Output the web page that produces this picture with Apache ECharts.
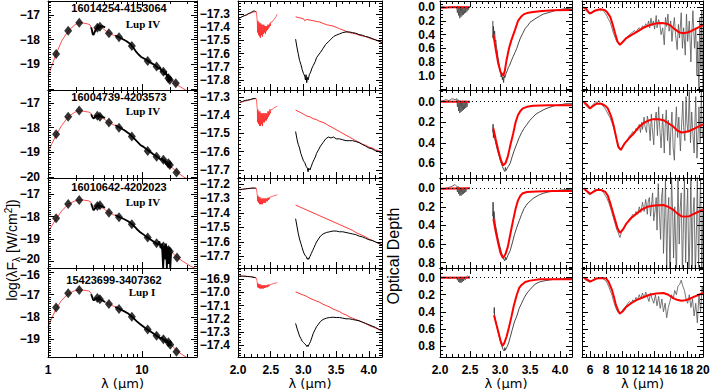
<!DOCTYPE html>
<html><head><meta charset="utf-8">
<script src="https://cdn.jsdelivr.net/npm/echarts@6/dist/echarts.min.js"></script>
<style>html,body{margin:0;padding:0;background:#fff}#c{width:710px;height:390px}</style>
</head><body><div id="c"></div>
<script>
// ---------------- DATA ----------------
const objectNames = ['16014254-4153064','16004739-4203573','16010642-4202023','15423699-3407362'];
const cloudNames = ['Lup IV','Lup IV','Lup IV','Lup I'];
const sedXLabels = [1,10];
const nirXLabels = [2.0,2.5,3.0,3.5,4.0];
const mirXLabels = [6,8,10,12,14,16,18,20];
const sedYLabels = [[-19,-18,-17],[-20,-19,-18,-17],[-20,-19,-18,-17],[-19,-18,-17,-16]];
const fluxYLabels = [[-17.8,-17.7,-17.6,-17.5,-17.4,-17.3],[-17.7,-17.6,-17.5,-17.4,-17.3],[-17.7,-17.6,-17.5,-17.4,-17.3,-17.2],[-17.4,-17.3,-17.2,-17.1,-17.0,-16.9]];
const tauYLabels = [[0,0.2,0.4,0.6,0.8,1.0],[0,0.2,0.4,0.6],[0,0.2,0.4,0.6,0.8],[0,0.2,0.4,0.6,0.8]];
const sedYRange = [[-20.04,-16.43],[-20.05,-16.46],[-20.28,-16.29],[-19.8,-15.8]];
const fluxYRange = [[-17.876,-17.2],[-17.744,-17.263],[-17.78,-17.159],[-17.49,-16.814]];
const tauYRange = [[-0.092,1.21],[-0.114,0.743],[-0.11,0.857],[-0.113,0.93]];

// SED photometry (lambda um, log lambda F)
const sedPhot = [
 [[1.22,-18.58],[1.64,-17.64],[2.15,-17.31],[3.35,-17.52],[3.57,-17.47],[4.45,-17.74],[5.7,-17.9],[7.8,-18.26],[11.5,-18.86],[14.3,-19.09],[16.9,-19.3],[19.1,-19.56],[19.8,-19.63],[22.9,-19.77]],
 [[1.22,-18.27],[1.64,-17.55],[2.15,-17.3],[3.35,-17.51],[3.57,-17.55],[4.45,-17.79],[5.7,-18.0],[7.8,-18.36],[11.5,-18.95],[14.3,-19.18],[16.9,-19.31],[19.1,-19.45],[19.8,-19.52],[23.3,-19.83]],
 [[1.22,-18.07],[1.64,-17.44],[2.15,-17.27],[3.35,-17.53],[3.57,-17.5],[4.45,-17.83],[5.7,-18.03],[7.8,-18.34],[11.5,-18.93],[14.3,-19.18],[16.9,-19.33],[19.1,-19.48],[19.8,-19.55],[23.6,-19.82]],
 [[1.22,-17.57],[1.64,-16.94],[2.15,-16.79],[3.35,-17.15],[3.57,-17.21],[4.45,-17.42],[5.7,-17.64],[7.8,-17.99],[11.5,-18.56],[14.3,-18.85],[16.9,-19.0],[19.1,-19.14],[20,-19.25],[23.3,-19.56]]
];
// SED model (red)
const sedModel = [
 [[1.0,-19.5],[1.1,-19.05],[1.22,-18.58],[1.4,-18.05],[1.64,-17.64],[1.9,-17.42],[2.15,-17.3],[2.4,-17.33],[2.65,-17.36],[2.8,-17.4],[2.9,-17.55],[2.97,-17.78],[3.02,-17.8],[3.1,-17.68],[3.2,-17.55],[3.4,-17.48],[3.6,-17.47],[4.0,-17.6],[4.45,-17.73],[5.0,-17.82],[5.7,-17.9],[6.5,-18.02],[7.2,-18.12],[7.8,-18.25],[8.5,-18.45],[9.2,-18.62],[10.0,-18.72],[11.0,-18.8],[12.0,-18.9],[13.5,-19.03],[15.0,-19.17],[17.0,-19.33],[19.0,-19.52],[21.0,-19.66],[24.0,-19.85],[28.0,-20.0],[32.0,-20.12]],
 [[1.0,-19.04],[1.1,-18.65],[1.22,-18.3],[1.4,-17.9],[1.64,-17.56],[1.9,-17.38],[2.15,-17.3],[2.4,-17.33],[2.7,-17.36],[2.85,-17.4],[2.95,-17.52],[3.02,-17.6],[3.1,-17.55],[3.25,-17.5],[3.5,-17.52],[4.0,-17.66],[4.45,-17.78],[5.0,-17.88],[5.7,-17.98],[6.5,-18.1],[7.8,-18.35],[8.5,-18.5],[9.5,-18.7],[10.5,-18.8],[11.5,-18.93],[13,-19.08],[15,-19.22],[17,-19.35],[19,-19.5],[21,-19.63],[24,-19.83],[28,-20.02],[32,-20.12]],
 [[1.0,-18.67],[1.1,-18.4],[1.22,-18.1],[1.4,-17.75],[1.64,-17.45],[1.9,-17.32],[2.15,-17.26],[2.4,-17.27],[2.7,-17.3],[2.85,-17.35],[2.95,-17.55],[3.02,-17.62],[3.1,-17.55],[3.25,-17.5],[3.5,-17.52],[4.0,-17.68],[4.45,-17.82],[5.0,-17.92],[5.7,-18.02],[6.5,-18.12],[7.8,-18.34],[8.5,-18.5],[9.5,-18.7],[10.5,-18.8],[11.5,-18.93],[13,-19.07],[15,-19.22],[17,-19.35],[19,-19.47],[21,-19.6],[24,-19.83],[28,-20.02],[33,-20.2],[38.5,-20.33]],
 [[1.0,-18.47],[1.1,-18.05],[1.22,-17.62],[1.4,-17.25],[1.64,-16.96],[1.9,-16.83],[2.15,-16.78],[2.4,-16.8],[2.7,-16.83],[2.85,-16.9],[2.95,-17.1],[3.02,-17.25],[3.1,-17.22],[3.25,-17.15],[3.5,-17.18],[4.0,-17.32],[4.45,-17.42],[5.0,-17.52],[5.7,-17.63],[6.5,-17.75],[7.8,-17.98],[8.5,-18.13],[9.5,-18.32],[10.5,-18.44],[11.5,-18.56],[13,-18.72],[15,-18.88],[17,-19.0],[19,-19.12],[21,-19.3],[24,-19.55],[28,-19.75],[31,-19.85]]
];
// SED observed spectra (black): 3 um part and IRS part
const sedSpecL = [
 [[2.88,-17.5],[2.95,-17.65],[3.0,-17.79],[3.05,-17.8],[3.1,-17.74],[3.2,-17.62],[3.3,-17.55],[3.45,-17.48],[3.65,-17.45],[3.85,-17.46],[4.05,-17.5]],
 [[2.88,-17.45],[2.95,-17.55],[3.02,-17.6],[3.07,-17.62],[3.15,-17.57],[3.3,-17.5],[3.5,-17.52],[3.75,-17.55],[4.05,-17.6]],
 [[2.88,-17.42],[2.95,-17.55],[3.02,-17.68],[3.07,-17.72],[3.15,-17.65],[3.3,-17.55],[3.5,-17.52],[3.75,-17.55],[4.05,-17.6]],
 [[2.88,-16.98],[2.95,-17.1],[3.02,-17.22],[3.07,-17.25],[3.15,-17.2],[3.3,-17.15],[3.5,-17.17],[3.75,-17.25],[4.05,-17.33]]
];
const sedSpecM = [
 [[5.2,-17.83],[5.7,-17.9],[6.2,-17.97],[6.8,-18.05],[7.4,-18.15],[8.0,-18.3],[8.6,-18.47],[9.2,-18.6],[9.8,-18.7],[10.5,-18.76],[11.2,-18.82],[12,-18.9],[13,-18.98],[14,-19.06],[15,-19.18],[15.6,-19.12],[16.2,-19.3],[16.8,-19.22],[17.4,-19.42],[18,-19.3],[18.5,-19.55],[19,-19.4],[19.5,-19.7],[20,-19.5],[20.5,-19.65]],
 [[5.2,-17.9],[5.7,-17.98],[6.5,-18.1],[7.2,-18.22],[8.0,-18.38],[8.8,-18.55],[9.6,-18.7],[10.4,-18.78],[11.2,-18.88],[12,-18.96],[13,-19.06],[14,-19.15],[15,-19.22],[15.8,-19.3],[16.4,-19.25],[17,-19.4],[17.5,-19.3],[18,-19.5],[18.5,-19.38],[19,-19.6],[19.5,-19.45],[20,-19.62],[20.5,-19.55]],
 [[5.2,-17.93],[5.7,-18.02],[6.5,-18.12],[7.2,-18.22],[8.0,-18.37],[8.8,-18.55],[9.6,-18.7],[10.4,-18.8],[11.2,-18.9],[12,-18.98],[13,-19.08],[14,-19.18],[14.8,-19.25],[15.3,-19.1],[15.8,-19.4],[16.3,-19.2],[16.8,-20.3],[17.2,-19.3],[17.6,-19.9],[18,-19.2],[18.4,-20.3],[18.8,-19.35],[19.2,-20.1],[19.6,-19.4],[20,-20.3],[20.4,-19.6]],
 [[5.2,-17.55],[5.7,-17.63],[6.5,-17.75],[7.2,-17.86],[8.0,-18.02],[8.8,-18.2],[9.6,-18.33],[10.4,-18.44],[11.2,-18.54],[12,-18.62],[13,-18.72],[14,-18.82],[15,-18.9],[15.8,-18.98],[16.4,-18.92],[17,-19.08],[17.6,-19.0],[18.2,-19.15],[18.8,-19.05],[19.3,-19.3],[19.8,-19.15],[20.3,-19.3]]
];
// 2-4 um flux: model (red) and observed (black), K-band part (A) and L-band part (B)
const fluxModelA = [
 [[2.00,-17.335],[2.04,-17.325],[2.08,-17.315],[2.12,-17.31],[2.16,-17.30],[2.20,-17.29],[2.24,-17.285],[2.28,-17.28],[2.29,-17.33],[2.295,-17.36],[2.30,-17.44],[2.305,-17.35],[2.315,-17.46],[2.32,-17.36],[2.33,-17.47],[2.335,-17.37],[2.345,-17.48],[2.35,-17.37],[2.36,-17.46],[2.365,-17.38],[2.375,-17.47],[2.38,-17.38],[2.39,-17.45],[2.395,-17.38],[2.405,-17.44],[2.41,-17.39],[2.42,-17.45],[2.425,-17.39],[2.435,-17.43],[2.44,-17.39],[2.45,-17.42],[2.455,-17.38],[2.465,-17.41],[2.47,-17.38],[2.48,-17.40],[2.485,-17.37],[2.495,-17.39],[2.50,-17.36],[2.52,-17.36],[2.55,-17.34],[2.58,-17.32],[2.60,-17.30]],
 [[2.00,-17.335],[2.05,-17.33],[2.10,-17.325],[2.15,-17.32],[2.20,-17.315],[2.25,-17.31],[2.28,-17.31],[2.29,-17.35],[2.295,-17.37],[2.30,-17.44],[2.305,-17.37],[2.315,-17.45],[2.32,-17.38],[2.33,-17.46],[2.335,-17.38],[2.345,-17.46],[2.35,-17.39],[2.36,-17.45],[2.365,-17.39],[2.375,-17.46],[2.38,-17.39],[2.39,-17.44],[2.395,-17.39],[2.405,-17.44],[2.41,-17.39],[2.42,-17.43],[2.425,-17.39],[2.435,-17.43],[2.44,-17.39],[2.45,-17.42],[2.455,-17.38],[2.465,-17.41],[2.47,-17.38],[2.48,-17.40],[2.485,-17.37],[2.495,-17.39],[2.50,-17.37],[2.52,-17.37],[2.55,-17.36],[2.58,-17.355],[2.60,-17.35]],
 [[2.00,-17.24],[2.05,-17.237],[2.10,-17.235],[2.15,-17.232],[2.20,-17.23],[2.25,-17.228],[2.28,-17.23],[2.29,-17.26],[2.295,-17.28],[2.30,-17.32],[2.305,-17.28],[2.315,-17.33],[2.32,-17.29],[2.33,-17.34],[2.335,-17.29],[2.345,-17.34],[2.35,-17.30],[2.36,-17.34],[2.365,-17.30],[2.375,-17.34],[2.38,-17.30],[2.39,-17.33],[2.395,-17.30],[2.405,-17.33],[2.41,-17.30],[2.42,-17.33],[2.425,-17.30],[2.435,-17.32],[2.44,-17.30],[2.45,-17.32],[2.455,-17.295],[2.465,-17.31],[2.47,-17.295],[2.48,-17.305],[2.485,-17.29],[2.50,-17.29],[2.53,-17.285],[2.56,-17.28],[2.60,-17.275]],
 [[2.00,-16.875],[2.05,-16.875],[2.10,-16.876],[2.15,-16.878],[2.20,-16.88],[2.25,-16.885],[2.28,-16.89],[2.29,-16.91],[2.295,-16.93],[2.30,-16.96],[2.305,-16.93],[2.315,-16.965],[2.32,-16.935],[2.33,-16.97],[2.335,-16.94],[2.345,-16.97],[2.35,-16.94],[2.36,-16.97],[2.365,-16.945],[2.375,-16.97],[2.38,-16.945],[2.39,-16.97],[2.395,-16.945],[2.405,-16.965],[2.41,-16.945],[2.42,-16.965],[2.425,-16.945],[2.435,-16.96],[2.44,-16.945],[2.45,-16.96],[2.455,-16.94],[2.465,-16.955],[2.47,-16.94],[2.48,-16.95],[2.485,-16.94],[2.50,-16.94],[2.53,-16.935],[2.56,-16.93],[2.60,-16.925]]
];
const fluxObsA = [
 [[2.02,-17.33],[2.06,-17.32],[2.10,-17.31],[2.13,-17.305],[2.16,-17.295],[2.19,-17.29],[2.22,-17.28],[2.25,-17.275],[2.27,-17.28]],
 [[2.03,-17.33],[2.07,-17.325],[2.11,-17.32],[2.15,-17.318],[2.19,-17.315],[2.23,-17.31],[2.27,-17.31]],
 [[2.03,-17.24],[2.07,-17.237],[2.11,-17.234],[2.15,-17.232],[2.19,-17.23],[2.23,-17.228],[2.27,-17.23]],
 [[2.03,-16.875],[2.07,-16.876],[2.11,-16.877],[2.15,-16.879],[2.19,-16.88],[2.23,-16.884],[2.27,-16.888]]
];
const fluxModelB = [
 [[2.88,-17.32],[2.92,-17.325],[2.96,-17.33],[3.0,-17.335],[3.02,-17.35],[3.05,-17.34],[3.1,-17.345],[3.15,-17.35],[3.2,-17.355],[3.25,-17.36],[3.3,-17.37],[3.35,-17.38],[3.4,-17.385],[3.45,-17.39],[3.5,-17.40],[3.55,-17.41],[3.6,-17.42],[3.65,-17.43],[3.7,-17.44],[3.75,-17.445],[3.8,-17.45],[3.85,-17.46],[3.9,-17.465],[3.95,-17.47],[4.0,-17.48],[4.05,-17.49],[4.1,-17.495],[4.15,-17.505],[4.2,-17.515]],
 [[2.88,-17.373],[2.95,-17.385],[3.0,-17.395],[3.05,-17.405],[3.1,-17.41],[3.15,-17.42],[3.2,-17.425],[3.25,-17.435],[3.3,-17.44],[3.35,-17.45],[3.4,-17.46],[3.45,-17.47],[3.5,-17.48],[3.55,-17.49],[3.6,-17.50],[3.65,-17.51],[3.7,-17.52],[3.75,-17.53],[3.8,-17.54],[3.85,-17.55],[3.9,-17.56],[3.95,-17.565],[4.0,-17.575],[4.05,-17.58],[4.1,-17.59],[4.15,-17.595],[4.2,-17.60]],
 [[2.88,-17.345],[2.95,-17.36],[3.0,-17.37],[3.05,-17.38],[3.1,-17.39],[3.15,-17.40],[3.2,-17.41],[3.25,-17.42],[3.3,-17.43],[3.35,-17.44],[3.4,-17.45],[3.45,-17.46],[3.5,-17.47],[3.55,-17.48],[3.6,-17.49],[3.65,-17.50],[3.7,-17.51],[3.75,-17.52],[3.8,-17.535],[3.85,-17.545],[3.9,-17.555],[3.95,-17.565],[4.0,-17.58],[4.05,-17.59],[4.1,-17.6],[4.15,-17.61],[4.2,-17.62]],
 [[2.88,-16.995],[2.95,-17.01],[3.0,-17.02],[3.05,-17.03],[3.1,-17.045],[3.15,-17.055],[3.2,-17.065],[3.25,-17.075],[3.3,-17.09],[3.35,-17.1],[3.4,-17.11],[3.45,-17.125],[3.5,-17.135],[3.55,-17.145],[3.6,-17.16],[3.65,-17.17],[3.7,-17.185],[3.75,-17.195],[3.8,-17.205],[3.85,-17.215],[3.9,-17.225],[3.95,-17.235],[4.0,-17.25],[4.05,-17.26],[4.1,-17.27],[4.15,-17.28],[4.2,-17.29]]
];
const fluxObsB = [
 [[2.88,-17.49],[2.90,-17.55],[2.92,-17.6],[2.94,-17.65],[2.96,-17.68],[2.98,-17.72],[3.00,-17.75],[3.02,-17.77],[3.03,-17.8],[3.04,-17.76],[3.05,-17.82],[3.06,-17.78],[3.07,-17.80],[3.09,-17.76],[3.11,-17.74],[3.13,-17.71],[3.15,-17.69],[3.18,-17.66],[3.2,-17.63],[3.23,-17.61],[3.26,-17.59],[3.3,-17.56],[3.34,-17.53],[3.38,-17.51],[3.42,-17.49],[3.46,-17.47],[3.5,-17.46],[3.55,-17.45],[3.6,-17.44],[3.65,-17.435],[3.7,-17.435],[3.75,-17.44],[3.8,-17.445],[3.85,-17.455],[3.9,-17.46],[3.95,-17.47],[4.0,-17.475],[4.05,-17.485],[4.1,-17.495],[4.15,-17.505],[4.2,-17.515]],
 [[2.88,-17.49],[2.90,-17.53],[2.92,-17.56],[2.94,-17.58],[2.96,-17.61],[2.98,-17.63],[3.00,-17.65],[3.02,-17.66],[3.04,-17.68],[3.06,-17.69],[3.07,-17.71],[3.08,-17.69],[3.10,-17.70],[3.12,-17.68],[3.14,-17.66],[3.16,-17.645],[3.18,-17.63],[3.2,-17.61],[3.23,-17.59],[3.26,-17.57],[3.3,-17.55],[3.34,-17.53],[3.38,-17.52],[3.42,-17.525],[3.46,-17.52],[3.5,-17.53],[3.55,-17.53],[3.6,-17.535],[3.65,-17.54],[3.7,-17.54],[3.75,-17.54],[3.8,-17.545],[3.85,-17.55],[3.9,-17.56],[3.95,-17.57],[4.0,-17.58],[4.05,-17.585],[4.1,-17.595],[4.15,-17.6],[4.2,-17.61]],
 [[2.88,-17.44],[2.90,-17.49],[2.92,-17.54],[2.94,-17.58],[2.96,-17.61],[2.98,-17.64],[3.00,-17.67],[3.02,-17.69],[3.04,-17.70],[3.06,-17.72],[3.07,-17.71],[3.08,-17.72],[3.10,-17.70],[3.12,-17.68],[3.14,-17.66],[3.16,-17.64],[3.18,-17.62],[3.2,-17.60],[3.23,-17.58],[3.26,-17.56],[3.3,-17.545],[3.35,-17.535],[3.4,-17.53],[3.45,-17.525],[3.5,-17.525],[3.55,-17.53],[3.6,-17.53],[3.65,-17.535],[3.7,-17.54],[3.75,-17.545],[3.8,-17.55],[3.85,-17.56],[3.9,-17.565],[3.95,-17.575],[4.0,-17.585],[4.05,-17.59],[4.1,-17.6],[4.15,-17.61],[4.2,-17.62]],
 [[2.88,-17.235],[2.90,-17.27],[2.92,-17.30],[2.94,-17.33],[2.96,-17.35],[2.98,-17.37],[3.00,-17.38],[3.02,-17.39],[3.04,-17.40],[3.05,-17.41],[3.06,-17.40],[3.07,-17.41],[3.09,-17.39],[3.11,-17.37],[3.13,-17.34],[3.15,-17.31],[3.18,-17.28],[3.2,-17.26],[3.23,-17.24],[3.26,-17.22],[3.3,-17.205],[3.35,-17.195],[3.4,-17.19],[3.45,-17.188],[3.5,-17.19],[3.55,-17.19],[3.6,-17.195],[3.65,-17.2],[3.7,-17.2],[3.75,-17.205],[3.8,-17.21],[3.85,-17.215],[3.9,-17.225],[3.95,-17.235],[4.0,-17.245],[4.05,-17.255],[4.1,-17.265],[4.15,-17.28],[4.2,-17.29]]
];
// 2-4 um optical depth
const tauModelA = [
 [[2.0,0.005],[2.2,0.0],[2.5,0.0]],
 [[2.0,0.0],[2.5,0.0]],
 [[2.0,0.005],[2.5,0.0]],
 [[2.0,0.0],[2.5,0.0]]
];
const tauObsA = [
 [[2.0,0.0],[2.05,-0.01],[2.1,0.01],[2.15,-0.005],[2.2,0.0],[2.25,-0.01],[2.28,0.01],[2.29,0.08],[2.30,-0.02],[2.31,0.12],[2.32,-0.01],[2.33,0.16],[2.34,0.0],[2.35,0.14],[2.36,-0.01],[2.37,0.12],[2.38,0.0],[2.39,0.11],[2.40,-0.01],[2.41,0.09],[2.42,0.0],[2.43,0.08],[2.44,-0.01],[2.45,0.06],[2.46,0.0],[2.47,0.04],[2.48,-0.01],[2.5,0.01]],
 [[2.0,0.0],[2.05,-0.01],[2.1,-0.02],[2.15,-0.01],[2.2,-0.03],[2.25,-0.02],[2.28,-0.03],[2.29,0.05],[2.30,-0.02],[2.31,0.09],[2.32,-0.01],[2.33,0.11],[2.34,-0.01],[2.35,0.1],[2.36,0.0],[2.37,0.09],[2.38,-0.01],[2.39,0.08],[2.40,0.0],[2.41,0.07],[2.42,-0.01],[2.43,0.06],[2.44,0.0],[2.45,0.05],[2.47,0.0],[2.5,0.01]],
 [[2.0,0.0],[2.05,0.01],[2.1,0.0],[2.15,-0.01],[2.2,-0.02],[2.25,-0.04],[2.28,-0.02],[2.29,0.04],[2.30,-0.02],[2.31,0.06],[2.32,-0.01],[2.33,0.08],[2.34,0.0],[2.35,0.08],[2.36,0.0],[2.37,0.07],[2.38,0.0],[2.39,0.06],[2.40,0.0],[2.41,0.05],[2.42,0.0],[2.43,0.04],[2.45,0.0],[2.5,0.0]],
 [[2.0,0.0],[2.05,0.005],[2.1,0.0],[2.15,0.01],[2.2,0.0],[2.25,0.005],[2.28,0.0],[2.29,0.03],[2.30,0.0],[2.31,0.05],[2.32,0.0],[2.33,0.06],[2.34,0.01],[2.35,0.06],[2.36,0.0],[2.37,0.05],[2.38,0.0],[2.39,0.04],[2.40,0.0],[2.42,0.03],[2.44,-0.01],[2.46,-0.02],[2.48,-0.01],[2.5,-0.02]]
];
const tauModelB = [
 [[2.89,0.40],[2.93,0.62],[2.97,0.82],[3.01,0.95],[3.055,1.0],[3.08,0.93],[3.11,0.77],[3.15,0.6],[3.19,0.48],[3.25,0.33],[3.3,0.2],[3.35,0.14],[3.4,0.1],[3.45,0.085],[3.55,0.07],[3.7,0.055],[3.9,0.045],[4.2,0.04]],
 [[2.89,0.26],[2.93,0.37],[2.97,0.47],[3.01,0.56],[3.05,0.62],[3.09,0.6],[3.13,0.535],[3.17,0.43],[3.22,0.31],[3.26,0.2],[3.3,0.13],[3.34,0.09],[3.38,0.065],[3.45,0.05],[3.55,0.04],[3.8,0.035],[4.2,0.035]],
 [[2.89,0.33],[2.93,0.47],[2.97,0.59],[3.01,0.7],[3.05,0.75],[3.09,0.71],[3.13,0.63],[3.17,0.5],[3.22,0.34],[3.26,0.22],[3.3,0.13],[3.34,0.08],[3.38,0.054],[3.45,0.04],[3.6,0.035],[3.9,0.03],[4.2,0.03]],
 [[2.9,0.44],[2.94,0.55],[2.97,0.63],[3.01,0.74],[3.04,0.8],[3.07,0.77],[3.11,0.69],[3.15,0.58],[3.19,0.46],[3.23,0.33],[3.28,0.2],[3.32,0.12],[3.36,0.085],[3.42,0.05],[3.5,0.035],[3.66,0.02],[3.9,0.02],[4.2,0.02]]
];
const tauObsB = [
 [[2.88,0.2],[2.885,0.45],[2.89,0.28],[2.9,0.4],[2.91,0.35],[2.92,0.5],[2.93,0.48],[2.94,0.6],[2.95,0.62],[2.96,0.7],[2.97,0.75],[2.98,0.82],[2.99,0.86],[3.0,0.92],[3.01,0.96],[3.02,1.02],[3.03,0.98],[3.04,1.06],[3.05,1.02],[3.06,1.1],[3.07,1.0],[3.08,1.03],[3.1,0.97],[3.12,0.93],[3.14,0.88],[3.16,0.85],[3.18,0.8],[3.2,0.76],[3.22,0.72],[3.25,0.66],[3.28,0.6],[3.31,0.52],[3.34,0.45],[3.38,0.38],[3.42,0.31],[3.46,0.27],[3.5,0.22],[3.55,0.19],[3.6,0.16],[3.66,0.13],[3.72,0.1],[3.8,0.08],[3.88,0.06],[3.95,0.04],[4.02,0.03],[4.1,0.02],[4.15,0.015],[4.2,0.01]],
 [[2.88,0.3],[2.885,0.22],[2.89,0.35],[2.9,0.3],[2.92,0.38],[2.94,0.43],[2.96,0.48],[2.98,0.52],[3.0,0.56],[3.02,0.6],[3.04,0.63],[3.06,0.66],[3.08,0.68],[3.09,0.64],[3.1,0.67],[3.12,0.65],[3.14,0.63],[3.17,0.6],[3.2,0.54],[3.24,0.47],[3.28,0.41],[3.32,0.35],[3.36,0.3],[3.4,0.26],[3.45,0.22],[3.5,0.18],[3.55,0.15],[3.6,0.12],[3.66,0.1],[3.72,0.08],[3.8,0.06],[3.9,0.04],[4.0,0.03],[4.1,0.02],[4.2,0.02]],
 [[2.88,0.3],[2.885,0.15],[2.89,0.33],[2.9,0.25],[2.92,0.38],[2.94,0.45],[2.96,0.52],[2.98,0.58],[3.0,0.63],[3.02,0.68],[3.04,0.72],[3.06,0.76],[3.08,0.78],[3.09,0.74],[3.1,0.77],[3.12,0.74],[3.14,0.71],[3.17,0.67],[3.2,0.6],[3.24,0.5],[3.28,0.42],[3.32,0.35],[3.36,0.28],[3.4,0.22],[3.45,0.17],[3.5,0.14],[3.55,0.11],[3.6,0.09],[3.66,0.07],[3.72,0.055],[3.8,0.04],[3.9,0.03],[4.0,0.02],[4.1,0.015],[4.2,0.01]],
 [[2.9,0.42],[2.905,0.35],[2.91,0.45],[2.93,0.52],[2.95,0.58],[2.97,0.64],[2.99,0.7],[3.01,0.76],[3.03,0.8],[3.05,0.84],[3.07,0.86],[3.08,0.82],[3.09,0.85],[3.11,0.82],[3.13,0.79],[3.15,0.75],[3.17,0.7],[3.2,0.62],[3.24,0.52],[3.28,0.45],[3.32,0.36],[3.36,0.3],[3.4,0.24],[3.45,0.18],[3.5,0.14],[3.55,0.1],[3.6,0.07],[3.66,0.05],[3.72,0.04],[3.8,0.03],[3.9,0.02],[4.0,0.015],[4.1,0.01],[4.2,0.01]]
];
// 5-20 um optical depth
const tauModelM = [
 [[5.15,0.0],[5.5,0.02],[5.8,0.07],[6.0,0.09],[6.2,0.08],[6.6,0.05],[7.0,0.035],[7.3,0.03],[7.8,0.04],[8.1,0.07],[8.5,0.14],[8.8,0.25],[9.1,0.38],[9.4,0.5],[9.7,0.55],[10.1,0.5],[10.5,0.45],[11.2,0.4],[11.8,0.36],[12.6,0.3],[13.4,0.26],[14.2,0.235],[14.9,0.23],[15.5,0.24],[15.9,0.26],[16.5,0.32],[17.1,0.37],[17.6,0.38],[18.0,0.37],[18.5,0.35],[19.0,0.32],[19.5,0.29],[20.0,0.26]],
 [[5.2,0.0],[5.6,0.03],[6.0,0.065],[6.4,0.04],[6.8,0.02],[7.4,0.02],[7.9,0.04],[8.2,0.065],[8.6,0.14],[8.95,0.24],[9.3,0.37],[9.5,0.44],[9.8,0.47],[10.3,0.405],[10.8,0.36],[11.4,0.31],[12.0,0.25],[12.6,0.21],[13.2,0.185],[13.8,0.17],[14.5,0.17],[15.1,0.18],[15.7,0.21],[16.3,0.24],[16.8,0.28],[17.3,0.3],[17.8,0.295],[18.3,0.285],[19.0,0.26],[19.5,0.24],[20.0,0.22]],
 [[5.2,0.0],[5.6,0.03],[6.0,0.06],[6.4,0.04],[6.8,0.02],[7.4,0.02],[7.9,0.04],[8.2,0.08],[8.5,0.16],[8.8,0.25],[9.1,0.34],[9.4,0.43],[9.7,0.48],[10.1,0.44],[10.5,0.38],[11.1,0.32],[11.8,0.27],[12.4,0.23],[13.1,0.2],[14.0,0.185],[15.1,0.18],[15.7,0.2],[16.3,0.23],[16.8,0.27],[17.3,0.3],[17.8,0.305],[18.3,0.3],[19.0,0.27],[19.5,0.25],[20.0,0.23]],
 [[5.2,0.0],[5.6,0.02],[6.0,0.047],[6.4,0.03],[6.8,0.01],[7.4,0.005],[8.0,0.01],[8.3,0.05],[8.7,0.14],[9.0,0.24],[9.2,0.32],[9.5,0.39],[9.7,0.42],[10.1,0.39],[10.5,0.34],[11.1,0.3],[11.8,0.26],[12.6,0.23],[13.4,0.2],[14.2,0.185],[15.1,0.18],[15.7,0.2],[16.3,0.24],[16.8,0.26],[17.3,0.27],[17.8,0.265],[18.3,0.25],[19.0,0.22],[19.5,0.2],[20.0,0.18]]
];
const tauObsM = [
 [[5.3,0.03],[5.5,0.05],[5.7,0.06],[5.9,0.1],[6.1,0.08],[6.3,0.06],[6.5,0.05],[6.7,0.04],[6.9,0.05],[7.1,0.03],[7.3,0.05],[7.5,0.03],[7.7,0.06],[7.9,0.09],[8.1,0.13],[8.3,0.18],[8.5,0.22],[8.7,0.3],[8.9,0.38],[9.1,0.44],[9.3,0.5],[9.5,0.53],[9.7,0.55],[9.9,0.52],[10.1,0.5],[10.3,0.47],[10.5,0.45],[10.7,0.42],[10.9,0.4],[11.1,0.38],[11.3,0.36],[11.5,0.34],[11.7,0.37],[11.9,0.32],[12.1,0.3],[12.3,0.33],[12.5,0.27],[12.7,0.3],[12.9,0.24],[13.1,0.28],[13.25,0.2],[13.4,0.3],[13.55,0.16],[13.7,0.27],[13.85,0.2],[14.0,0.32],[14.2,0.12],[14.3,0.3],[14.5,0.18],[14.65,0.25],[14.8,0.4],[15.0,0.3],[15.2,0.55],[15.35,0.15],[15.5,0.28],[15.65,0.1],[15.8,0.35],[16.0,0.2],[16.15,0.5],[16.3,0.3],[16.45,0.15],[16.6,0.4],[16.8,0.62],[16.95,0.25],[17.1,0.45],[17.3,0.08],[17.45,0.6],[17.6,0.3],[17.8,0.7],[17.95,0.1],[18.1,0.5],[18.3,0.2],[18.5,0.8],[18.6,0.4],[18.75,0.05],[18.95,0.6],[19.1,0.3],[19.25,1.0],[19.35,0.5],[19.5,1.25],[19.6,0.15],[19.75,0.9],[19.85,0.05],[20.0,1.3]],
 [[5.3,0.02],[5.5,0.04],[5.7,0.05],[5.9,0.07],[6.1,0.06],[6.3,0.03],[6.5,0.02],[6.7,0.0],[6.9,0.01],[7.1,-0.01],[7.3,0.02],[7.5,0.03],[7.7,0.05],[7.9,0.07],[8.1,0.1],[8.3,0.13],[8.5,0.16],[8.7,0.2],[8.9,0.25],[9.1,0.31],[9.3,0.36],[9.5,0.42],[9.7,0.46],[9.9,0.47],[10.1,0.43],[10.3,0.4],[10.5,0.38],[10.7,0.36],[10.9,0.33],[11.1,0.32],[11.3,0.29],[11.5,0.31],[11.7,0.26],[11.9,0.28],[12.1,0.22],[12.25,0.3],[12.4,0.2],[12.5,0.27],[12.7,0.15],[12.8,0.24],[13.0,0.3],[13.1,0.14],[13.3,0.22],[13.45,0.38],[13.6,0.12],[13.7,0.25],[13.9,0.42],[14.0,0.2],[14.2,0.1],[14.35,0.33],[14.5,0.05],[14.6,0.2],[14.8,0.45],[14.9,0.3],[15.0,0.12],[15.2,0.5],[15.3,0.25],[15.45,0.08],[15.6,0.38],[15.7,0.18],[15.9,0.52],[16.0,0.3],[16.15,0.1],[16.3,0.45],[16.45,0.57],[16.6,0.2],[16.7,0.05],[16.85,0.35],[17.0,0.15],[17.2,0.48],[17.3,0.3],[17.5,0.0],[17.6,0.25],[17.75,0.38],[17.9,-0.05],[18.0,0.2],[18.15,0.3],[18.3,-0.1],[18.45,0.4],[18.6,0.1],[18.7,0.25],[18.9,0.5],[19.0,0.2],[19.1,-0.05],[19.25,0.55],[19.4,0.3],[19.5,0.05],[19.65,0.4],[19.8,-0.1],[19.9,0.35],[20.0,0.3]],
 [[5.3,0.02],[5.5,0.03],[5.7,0.05],[5.9,0.07],[6.1,0.06],[6.3,0.04],[6.5,0.02],[6.7,0.01],[6.9,0.02],[7.1,0.0],[7.3,0.02],[7.5,0.03],[7.7,0.05],[7.9,0.08],[8.1,0.11],[8.3,0.15],[8.5,0.2],[8.7,0.26],[8.9,0.32],[9.1,0.38],[9.3,0.44],[9.5,0.48],[9.7,0.53],[9.9,0.47],[10.1,0.45],[10.3,0.41],[10.5,0.38],[10.7,0.36],[10.9,0.33],[11.1,0.31],[11.3,0.28],[11.5,0.3],[11.7,0.25],[11.9,0.28],[12.1,0.2],[12.3,0.26],[12.5,0.15],[12.7,0.25],[12.9,0.12],[13.1,0.28],[13.2,0.15],[13.35,0.1],[13.5,0.3],[13.6,0.2],[13.75,0.05],[13.9,0.35],[14.05,0.25],[14.2,0.1],[14.3,0.45],[14.45,-0.05],[14.6,0.3],[14.75,0.55],[14.85,0.1],[15.0,0.0],[15.1,0.7],[15.25,0.3],[15.35,-0.1],[15.5,0.9],[15.6,0.4],[15.75,0.1],[15.9,0.95],[16.0,0.5],[16.1,-0.12],[16.25,0.3],[16.35,0.75],[16.5,0.2],[16.7,0.95],[16.8,0.45],[16.9,-0.12],[17.05,0.6],[17.15,0.25],[17.3,0.05],[17.45,0.95],[17.55,0.5],[17.7,-0.12],[17.85,0.8],[17.95,0.35],[18.1,0.0],[18.25,0.95],[18.35,0.6],[18.5,-0.12],[18.65,0.9],[18.75,0.3],[18.9,0.1],[19.05,0.95],[19.2,0.4],[19.3,-0.12],[19.45,0.85],[19.6,0.2],[19.7,-0.1],[19.85,0.95],[20.0,0.2]],
 [[5.3,0.02],[5.5,0.03],[5.7,0.04],[5.9,0.05],[6.1,0.045],[6.3,0.03],[6.5,0.02],[6.7,0.005],[6.9,0.01],[7.1,0.0],[7.3,0.01],[7.5,0.005],[7.7,0.02],[7.9,0.03],[8.1,0.06],[8.3,0.1],[8.5,0.15],[8.7,0.2],[8.9,0.27],[9.1,0.33],[9.3,0.38],[9.5,0.41],[9.7,0.43],[9.9,0.4],[10.1,0.37],[10.3,0.35],[10.5,0.33],[10.7,0.3],[10.9,0.28],[11.1,0.3],[11.3,0.26],[11.5,0.28],[11.7,0.23],[11.9,0.26],[12.1,0.2],[12.3,0.25],[12.5,0.18],[12.7,0.24],[12.9,0.17],[13.1,0.22],[13.3,0.28],[13.5,0.18],[13.7,0.25],[13.9,0.3],[14.1,0.2],[14.3,0.33],[14.5,0.22],[14.7,0.36],[14.9,0.25],[15.1,0.4],[15.3,0.3],[15.5,0.47],[15.7,0.35],[15.9,0.28],[16.1,0.2],[16.3,0.25],[16.5,0.15],[16.7,0.2],[16.9,0.1],[17.1,0.08],[17.3,0.03],[17.5,0.1],[17.7,0.15],[17.9,0.25],[18.1,0.3],[18.3,0.2],[18.5,0.35],[18.7,0.25],[18.9,0.45],[19.1,0.3],[19.3,0.53],[19.5,0.2],[19.7,0.4],[19.9,0.1],[20.0,0.2]]
];

// ---------------- LAYOUT ----------------
const COLS = [[48,197],[238,382],[440,572],[582,703]];
const ROWS = [[1,90],[90,178],[178,268],[268,357]];
const FONT = 'Liberation Sans';
const labelStyle = {fontFamily: FONT, fontWeight: 'bold', fontSize: 12, color: '#000'};

function steps(a, b, s) {
  const o = []; const k0 = Math.ceil(a / s - 1e-6), k1 = Math.floor(b / s + 1e-6);
  for (let k = k0; k <= k1; k++) o.push(+(k * s).toFixed(6));
  return o;
}
function negFmt(d) { return v => (v < -1e-9 ? '\u2212' : '') + Math.abs(v).toFixed(d); }
// labels that sit at the very edge of a panel are nudged slightly away from the neighbour panel's label
function edgeFmt(r) {
  const f = negFmt(0);
  return v => {
    const s = f(v);
    if (r === 2 && Math.abs(v + 20) < 1e-6) return '{u|' + s + '}';
    if (r === 3 && Math.abs(v + 16) < 1e-6) return '{d|' + s + '}';
    return s;
  };
}
const edgeRich = {u: Object.assign({padding: [0, 0, 5, 0]}, labelStyle), d: Object.assign({padding: [5, 0, 0, 0]}, labelStyle)};

const grids = [], xAxes = [], yAxes = [], series = [];
const XI = [], YI = [];

function addAxes(list, dim, gi, spec) {
  const sides = dim === 'x' ? ['bottom', 'top'] : ['left', 'right'];
  let firstIdx = -1;
  sides.forEach((side, k) => {
    const base = {gridIndex: gi, type: spec.type, min: spec.min, max: spec.max, inverse: !!spec.inverse,
      position: side, splitLine: {show: false}, splitArea: {show: false}, silent: true, z: 5};
    if (spec.type === 'log') base.logBase = 10;
    const lab = (k === 0 && spec.labels) ? Object.assign({show: true, customValues: spec.labels, formatter: spec.fmt, margin: spec.margin}, labelStyle) : {show: false};
    if (k === 0 && spec.rich) lab.rich = spec.rich;
    const major = Object.assign({}, base, {
      axisLine: {show: true, onZero: false, lineStyle: {color: '#000', width: 1}},
      axisTick: {show: true, inside: true, length: 6, customValues: spec.major, lineStyle: {color: '#000', width: 1}},
      axisLabel: lab
    });
    if (k === 0 && spec.name) {
      Object.assign(major, {name: spec.name, nameLocation: 'middle', nameGap: 17,
        nameTextStyle: {fontFamily: 'DejaVu Sans', fontSize: 13, color: '#000'}});
    }
    if (k === 0) firstIdx = list.length;
    list.push(major);
    list.push(Object.assign({}, base, {
      axisLine: {show: false, onZero: false},
      axisTick: {show: true, inside: true, length: 3, customValues: spec.minor, lineStyle: {color: '#000', width: 1}},
      axisLabel: {show: false}
    }));
  });
  return firstIdx;
}

for (let r = 0; r < 4; r++) {
  const bottom = r === 3;
  for (let c = 0; c < 4; c++) {
    const gi = grids.length;
    grids.push({left: COLS[c][0], top: ROWS[r][0], width: COLS[c][1] - COLS[c][0], height: ROWS[r][1] - ROWS[r][0], outerBoundsMode: 'none', containLabel: false});
    let xs, ys;
    if (c === 0) {
      xs = {type: 'log', min: 1, max: 38.5, major: [1, 10], minor: [2,3,4,5,6,7,8,9,20,30],
        labels: bottom ? sedXLabels : null, fmt: v => String(Math.round(v)), margin: 7, name: bottom ? '\u03bb (\u03bcm)' : null};
      ys = {type: 'value', min: sedYRange[r][0], max: sedYRange[r][1], major: steps(sedYRange[r][0], sedYRange[r][1], 1),
        minor: steps(sedYRange[r][0], sedYRange[r][1], 0.1), labels: sedYLabels[r], fmt: edgeFmt(r), rich: edgeRich, margin: 8};
    } else if (c === 1 || c === 2) {
      xs = {type: 'value', min: 2.0, max: 4.2, major: steps(2.0, 4.2, 0.5), minor: steps(2.0, 4.2, 0.1),
        labels: bottom ? nirXLabels : null, fmt: v => v.toFixed(1), margin: 7, name: bottom ? '\u03bb (\u03bcm)' : null};
      if (c === 1) {
        ys = {type: 'value', min: fluxYRange[r][0], max: fluxYRange[r][1], major: steps(fluxYRange[r][0], fluxYRange[r][1], 0.1),
          minor: steps(fluxYRange[r][0], fluxYRange[r][1], 0.02), labels: fluxYLabels[r], fmt: negFmt(1), margin: 8};
      } else {
        ys = {type: 'value', inverse: true, min: tauYRange[r][0], max: tauYRange[r][1], major: steps(tauYRange[r][0], tauYRange[r][1], 0.2),
          minor: steps(tauYRange[r][0], tauYRange[r][1], 0.05), labels: tauYLabels[r], fmt: negFmt(1), margin: 5};
      }
    } else {
      xs = {type: 'value', min: 5, max: 20, major: steps(5, 20, 2).filter(v => v >= 6), minor: steps(5, 20, 0.5),
        labels: bottom ? mirXLabels : null, fmt: v => String(v), margin: 7, name: bottom ? '\u03bb (\u03bcm)' : null};
      ys = {type: 'value', inverse: true, min: tauYRange[r][0], max: tauYRange[r][1], major: steps(tauYRange[r][0], tauYRange[r][1], 0.2),
        minor: steps(tauYRange[r][0], tauYRange[r][1], 0.05), labels: null, fmt: null, margin: 5};
    }
    XI[gi] = addAxes(xAxes, 'x', gi, xs);
    YI[gi] = addAxes(yAxes, 'y', gi, ys);
  }
}

function line(gi, data, color, width, z, extra) {
  series.push(Object.assign({type: 'line', xAxisIndex: XI[gi], yAxisIndex: YI[gi], data: data, symbol: 'none', showSymbol: false,
    lineStyle: {color: color, width: width}, itemStyle: {color: color}, z: z, clip: true, animation: false, silent: true}, extra || {}));
}
const zeroLine = {markLine: {silent: true, symbol: 'none', animation: false, label: {show: false},
  lineStyle: {type: [1, 3], color: '#000', width: 1}, data: [{yAxis: 0}]}};

for (let r = 0; r < 4; r++) {
  const g = r * 4;
  // SED
  line(g, sedModel[r], '#ff3b3b', 0.9, 2);
  line(g, sedSpecL[r], '#000', 1.8, 3);
  line(g, sedSpecM[r], '#000', 1.8, 3);
  series.push({type: 'scatter', xAxisIndex: XI[g], yAxisIndex: YI[g], data: sedPhot[r], symbol: 'diamond', symbolSize: [8, 10],
    itemStyle: {color: '#000'}, z: 4, animation: false, silent: true});
  // flux
  line(g + 1, fluxModelA[r], '#ff0000', 0.6, 2);
  line(g + 1, fluxObsA[r], '#000', 1.0, 3);
  line(g + 1, fluxModelB[r], '#ff0000', 0.8, 2);
  line(g + 1, fluxObsB[r], '#000', 1.0, 3);
  // tau 2-4
  line(g + 2, tauObsA[r], '#333', 0.7, 2, zeroLine);
  line(g + 2, tauObsB[r], '#333', 0.9, 2);
  line(g + 2, tauModelA[r], '#ff0000', 2, 3);
  line(g + 2, tauModelB[r], '#ff0000', 2, 3);
  // tau 5-20
  line(g + 3, tauObsM[r], '#555', 0.8, 2, zeroLine);
  line(g + 3, tauModelM[r], '#ff0000', 2, 3);
}

const titleY = [8, 97, 187, 280];
const subY = [24, 111, 202, 292];
const graphics = [];
for (let r = 0; r < 4; r++) {
  graphics.push({type: 'text', x: r === 3 ? 114 : 119, y: titleY[r], z: 10, style: {text: objectNames[r], fontFamily: FONT, fontWeight: 'bold', fontSize: 11, fill: '#000', align: 'center', verticalAlign: 'middle'}});
  graphics.push({type: 'text', x: r === 3 ? 142 : 143, y: subY[r], z: 10, style: {text: cloudNames[r], fontFamily: 'Liberation Serif', fontWeight: 'bold', fontSize: 11, fill: '#000', align: 'center', verticalAlign: 'middle'}});
}
graphics.push({type: 'text', x: 12, y: 250, rotation: Math.PI / 2, z: 10, style: {
  text: '{a|log(\u03bbF}{s|\u03bb}{a| [W/cm}{p|2}{a|])}', align: 'center', verticalAlign: 'middle',
  rich: {a: {fontFamily: FONT, fontSize: 14, fill: '#000', color: '#000', lineHeight: 18},
         s: {fontFamily: FONT, fontSize: 10, fill: '#000', color: '#000', verticalAlign: 'bottom', lineHeight: 18},
         p: {fontFamily: FONT, fontSize: 10, fill: '#000', color: '#000', verticalAlign: 'top', lineHeight: 18}}}});
graphics.push({type: 'text', x: 393, y: 256, rotation: Math.PI / 2, z: 10, style: {
  text: 'Optical Depth', fontFamily: FONT, fontSize: 16, fill: '#000', align: 'center', verticalAlign: 'middle'}});

const chart = echarts.init(document.getElementById('c'), null, {renderer: 'svg'});
chart.setOption({
  animation: false,
  backgroundColor: '#fff',
  grid: grids,
  xAxis: xAxes,
  yAxis: yAxes,
  series: series,
  graphic: graphics
});
</script></body></html>
